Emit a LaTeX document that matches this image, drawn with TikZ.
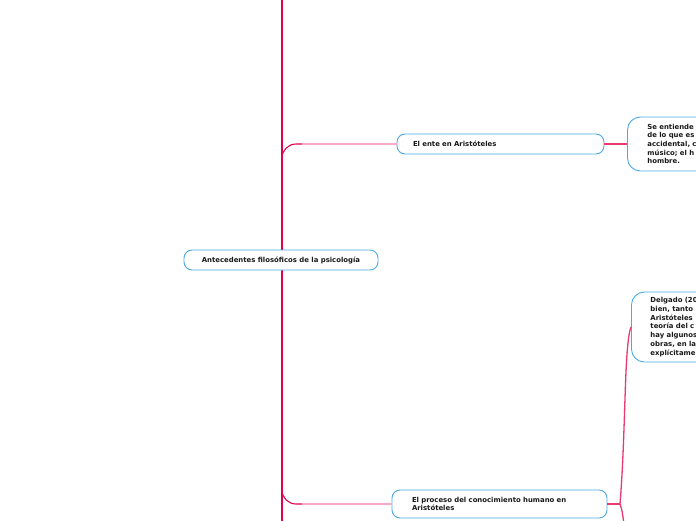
\documentclass[tikz,border=0pt]{standalone}
\usepackage{fontspec}
\setmainfont{DejaVu Sans}
\usetikzlibrary{positioning}
\definecolor{trunkred}{HTML}{E3004F}
\definecolor{twigpink}{HTML}{F7A9C7}
\definecolor{linkred}{HTML}{E83A6E}
\definecolor{boxblue}{HTML}{4BA9E4}
\begin{document}
\begin{tikzpicture}[x=1pt,y=-1pt,
  topic/.style={draw=boxblue, line width=0.9pt, fill=white, rounded corners=8pt, inner sep=0pt,
    font=\fontsize{6.9}{8.7}\selectfont\bfseries, text=black!90},
  note/.style={topic, rounded corners=13pt, align=left, anchor=west},
  trunk/.style={trunkred, line width=2.6pt},
  twig/.style={twigpink, line width=1.1pt},
  link/.style={linkred, line width=1.6pt}]
\useasboundingbox (0,0) rectangle (696,520);
\clip (0,0) rectangle (696,520);
\coordinate (trunktop) at (282,-2);
\coordinate (trunkbot) at (282,522);
\draw[trunk] (trunktop) -- (trunkbot);
\node[topic, minimum width=194pt, minimum height=20pt] (root) at (281,260) {Antecedentes filosóficos de la psicología};
\node[topic, minimum width=207pt, minimum height=20pt, text width=175pt, align=left] (ente) at (500.5,144) {El ente en Aristóteles};
\node[topic, minimum width=215pt, minimum height=28pt, text width=175pt, align=left] (proceso) at (499.5,504) {El proceso del conocimiento humano en\\Aristóteles};
\node[note, minimum width=120pt, minimum height=54pt, text width=80pt] (entiende) at (627,144) {Se entiende\\de lo que es\\accidental, c\\músico; el h\\hombre.};
\node[note, minimum width=120pt, minimum height=70pt, text width=82pt] (delgado) at (631,327) {Delgado (20\\bien, tanto\\Aristóteles\\teoría del c\\hay algunos\\obras, en la\\explícitame};
% branches off the trunk
\coordinate (j1) at (282,170);
\coordinate (k1) at (302,144);
\draw[trunkred, line width=1.1pt, rounded corners=14pt] (j1) |- (k1);
\draw[twig] (k1) -- (ente.west);
\coordinate (j2) at (282,478);
\coordinate (k2) at (302,504);
\draw[trunkred, line width=1.1pt, rounded corners=14pt] (j2) |- (k2);
\draw[twig] (k2) -- (proceso.west);
% right side
\draw[link] (ente.east) -- (entiende.west);
\coordinate (j3) at (620,504);
\coordinate (k3) at (624,524);
\draw[link] (proceso.east) -- (j3);
\draw[linkred, line width=1.3pt] (j3) .. controls (626,430) and (624,345) .. (delgado.west);
\draw[linkred, line width=1.3pt] (j3) .. controls (622,510) .. (k3);
\end{tikzpicture}
\end{document}
